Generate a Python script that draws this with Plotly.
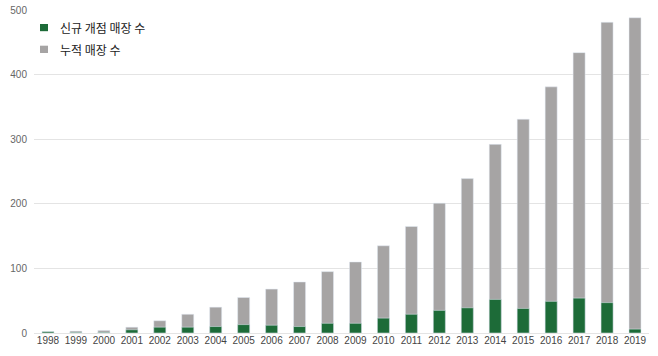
import plotly.graph_objects as go

years = [str(y) for y in range(1998, 2020)]
new_stores = [2, 1, 1, 5, 9, 9, 10, 13, 12, 10, 15, 15, 23, 29, 35, 39, 52, 38, 49, 54, 47, 6]
cum_stores = [2, 3, 4, 9, 19, 29, 40, 55, 68, 79, 95, 110, 135, 165, 201, 239, 292, 331, 381, 434, 481, 488]
y_ticks = [0, 100, 200, 300, 400, 500]
legend_names = ["신규 개점 매장 수", "누적 매장 수"]

GREEN = "#1d6b38"
GRAY = "#a6a4a4"

fig = go.Figure()
fig.add_trace(go.Bar(x=years, y=cum_stores, name=legend_names[1], marker_color=GRAY,
                     showlegend=False, hoverinfo="x+y"))
fig.add_trace(go.Bar(x=years, y=new_stores, name=legend_names[0], marker_color=GREEN,
                     showlegend=False, hoverinfo="x+y"))

# custom legend (squares + text) placed in the top-left of the plot area
legend_items = [(legend_names[0], GREEN, 0.9567, 0.9344, 0.9458),
                (legend_names[1], GRAY, 0.8895, 0.8669, 0.8777)]
for name, color, y1, y0, yt in legend_items:
    fig.add_shape(type="rect", xref="paper", yref="paper", x0=0.0098, x1=0.0228,
                  y0=y0, y1=y1, fillcolor=color, line=dict(width=0))
    fig.add_annotation(xref="paper", yref="paper", x=0.0385, y=yt, xanchor="left",
                       yanchor="middle", text=name, showarrow=False,
                       font=dict(family="Noto Sans CJK KR, sans-serif", size=12, color="#222"))

fig.update_layout(
    width=658, height=356,
    margin=dict(l=34, r=9, t=10, b=23),
    paper_bgcolor="white", plot_bgcolor="white",
    barmode="overlay", bargap=0.57, showlegend=False,
    font=dict(family="Liberation Sans, Arial, sans-serif", size=10, color="#555"),
    xaxis=dict(type="category", categoryorder="array", categoryarray=years,
               showgrid=False, showline=False, ticks="", tickangle=0,
               tickfont=dict(size=10, color="#444")),
    yaxis=dict(range=[0, 500], tickvals=y_ticks, showgrid=True, gridcolor="#e4e4e4",
               gridwidth=1, zeroline=True, zerolinecolor="#e4e4e4", zerolinewidth=1,
               showline=False, ticks="", automargin=False, ticklabelstandoff=6,
               tickfont=dict(size=10, color="#666")),
)

fig.write_html("out.html", config={"displayModeBar": False},
               post_script="document.body.style.margin='0';")
